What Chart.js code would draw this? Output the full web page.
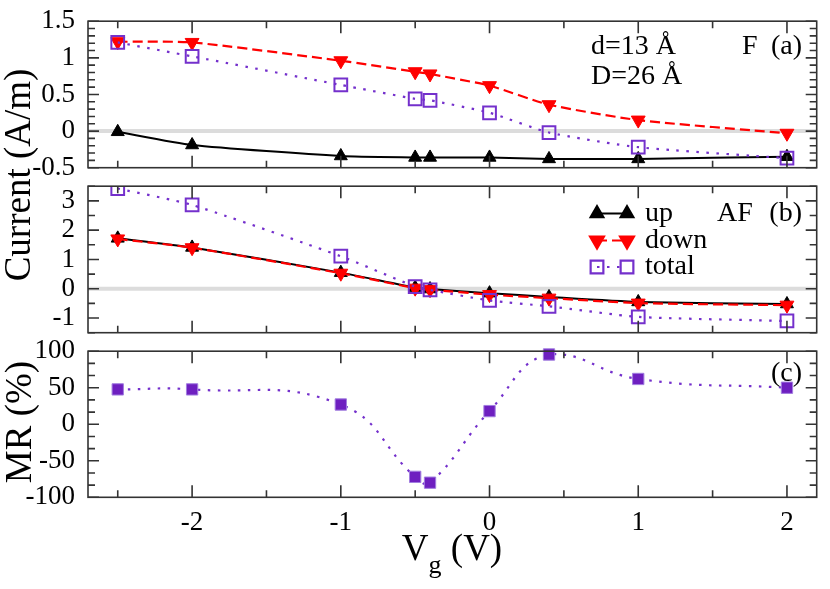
<!DOCTYPE html>
<html lang="en">
<head>
  <meta charset="utf-8">
  <title>Current and MR vs Vg</title>
  <script src="https://cdn.jsdelivr.net/npm/chart.js"></script>
  <style>
    html, body { margin: 0; padding: 0; background: #fff; }
    #page { position: relative; width: 830px; height: 589px; overflow: hidden;
            font-family: 'Liberation Serif', 'DejaVu Serif', serif; color: #000; }
    canvas { position: absolute; left: 0; }
    .ytitle { position: absolute; font-size: 37px; white-space: nowrap; line-height: 1;
              transform: translate(-50%, -50%) rotate(-90deg); }
    #xtitle { position: absolute; left: 452px; top: 529px; font-size: 37px; line-height: 1;
              white-space: nowrap; transform: translateX(-50%); }
    #xtitle sub { font-size: 26px; vertical-align: -13px; line-height: 0; }
  </style>
</head>
<body>
<div id="page">
  <canvas id="chartF" width="830" height="190" style="top:0"></canvas>
  <canvas id="chartAF" width="830" height="190" style="top:165px"></canvas>
  <canvas id="chartMR" width="830" height="259" style="top:330px"></canvas>
  <div class="ytitle" style="left:17px; top:175px">Current (A/m)</div>
  <div class="ytitle" style="left:18px; top:422px">MR (%)</div>
  <div id="xtitle">V<sub>g</sub> (V)</div>
</div>

<script>
// gate voltages (V)
var vg = [-2.5, -2, -1, -0.5, -0.4, 0, 0.4, 1, 2];

// panel (a): F configuration, current (A/m)
var upF    = [-0.01, -0.19, -0.34, -0.36, -0.36, -0.36, -0.38, -0.38, -0.35];
var downF  = [1.22, 1.21, 0.96, 0.81, 0.78, 0.62, 0.36, 0.15, -0.03];
var totalF = [1.21, 1.02, 0.63, 0.44, 0.42, 0.25, -0.02, -0.22, -0.37];

// panel (b): AF configuration, current (A/m)
var upAF    = [1.72, 1.41, 0.55, 0.04, -0.01, -0.15, -0.28, -0.45, -0.52];
var downAF  = [1.70, 1.40, 0.53, 0.02, -0.03, -0.20, -0.32, -0.49, -0.56];
var totalAF = [3.42, 2.86, 1.11, 0.07, -0.04, -0.40, -0.60, -0.96, -1.10];

// panel (c): magnetoresistance (%)
var mr = [47.7, 47.7, 27, -72, -80, 18, 95.5, 62, 50];

// ticks
var xTicks = [-2, -1, 0, 1, 2];
var xMinor = [-2.5, -1.5, -0.5, 0.5, 1.5];
var yTicksF = [-0.5, 0, 0.5, 1, 1.5];
var yTicksAF = [-1, 0, 1, 2, 3];
var yTicksMR = [-100, -50, 0, 50, 100];

var FONT = "'Liberation Serif', 'DejaVu Serif', serif";
var PURPLE = '#7430cc';
Chart.defaults.font.family = FONT;
Chart.defaults.font.size = 27;
Chart.defaults.color = '#000';

function pts(ys) {
  return vg.map(function(v, i) { return { x: v, y: ys[i] }; });
}

function upSet(ys) {
  return { label: 'up', data: pts(ys), order: 2, borderColor: '#000', borderWidth: 2,
    pointStyle: 'triangle', pointRadius: 7.5, pointBackgroundColor: '#000',
    pointBorderColor: '#000', pointBorderWidth: 1, tension: 0.2 };
}
function downSet(ys) {
  return { label: 'down', data: pts(ys), order: 1, borderColor: '#ff0000', borderWidth: 2.2,
    borderDash: [10, 5], pointStyle: 'triangle', pointRotation: 180, pointRadius: 8,
    pointBackgroundColor: '#ff0000', pointBorderColor: '#ff0000', pointBorderWidth: 1, tension: 0.2 };
}
function totalSet(ys) {
  return { label: 'total', data: pts(ys), order: 0, borderColor: PURPLE, borderWidth: 2.2,
    borderDash: [2.5, 7.5], pointStyle: 'rect', pointRadius: 9,
    pointBackgroundColor: 'rgba(0,0,0,0)', pointBorderColor: PURPLE, pointBorderWidth: 2, tension: 0.2 };
}

// frame with inward ticks, zero line, annotations and legend
var framePlugin = {
  id: 'frame',
  beforeDatasetsDraw: function(chart, args, opts) {
    if (!opts.zeroLine) return;
    var ctx = chart.ctx, a = chart.chartArea;
    var py = chart.scales.y.getPixelForValue(0);
    ctx.save();
    ctx.strokeStyle = '#dcdcdc';
    ctx.lineWidth = 4;
    ctx.beginPath();
    ctx.moveTo(a.left, py);
    ctx.lineTo(a.right, py);
    ctx.stroke();
    ctx.restore();
  },
  afterDraw: function(chart, args, opts) {
    var ctx = chart.ctx, a = chart.chartArea;
    var x = chart.scales.x, y = chart.scales.y;
    ctx.save();
    ctx.strokeStyle = '#333';
    ctx.lineWidth = 1.6;
    ctx.beginPath();
    function vt(v, len) {
      var px = x.getPixelForValue(v);
      ctx.moveTo(px, a.top); ctx.lineTo(px, a.top + len);
      ctx.moveTo(px, a.bottom); ctx.lineTo(px, a.bottom - len);
    }
    function ht(v, len) {
      var py = y.getPixelForValue(v);
      ctx.moveTo(a.left, py); ctx.lineTo(a.left + len, py);
      ctx.moveTo(a.right, py); ctx.lineTo(a.right - len, py);
    }
    xTicks.forEach(function(v) { vt(v, 12); });
    xMinor.forEach(function(v) { vt(v, 7); });
    opts.yMajor.forEach(function(v) { ht(v, 11); });
    var n = Math.round((y.max - y.min) / opts.yMinorStep);
    for (var i = 0; i <= n; i++) ht(y.min + i * opts.yMinorStep, 7);
    ctx.stroke();
    ctx.strokeRect(a.left, a.top, a.right - a.left, a.bottom - a.top);
    ctx.restore();

    ctx.save();
    ctx.fillStyle = '#000';
    ctx.font = '28px ' + FONT;
    ctx.textBaseline = 'middle';
    (opts.texts || []).forEach(function(t) {
      ctx.textAlign = t.align || 'left';
      ctx.fillText(t.text, t.x, t.y);
    });

    if (opts.legend) {
      var lg = opts.legend;
      chart.data.datasets.forEach(function(ds, i) {
        var ry = lg.rows[i];
        ctx.save();
        ctx.strokeStyle = ds.borderColor;
        ctx.lineWidth = ds.borderWidth;
        ctx.setLineDash(ds.borderDash || []);
        ctx.beginPath();
        ctx.moveTo(lg.x1, ry);
        ctx.lineTo(lg.x2, ry);
        ctx.stroke();
        ctx.setLineDash([]);
        [lg.x1, lg.x2].forEach(function(px) {
          ctx.fillStyle = ds.pointBackgroundColor;
          ctx.strokeStyle = ds.pointBorderColor;
          Chart.helpers.drawPoint(ctx, {
            pointStyle: ds.pointStyle, radius: ds.pointRadius,
            rotation: ds.pointRotation || 0, borderWidth: ds.pointBorderWidth
          }, px, ry);
        });
        ctx.restore();
        ctx.textAlign = 'left';
        ctx.fillText(ds.label, lg.textX, ry);
      });
    }
    ctx.restore();
  }
};

function fmt(v) { return String(Math.round(v * 100) / 100); }

function makePanel(id, datasets, yMin, yMax, yTicks, yMinorStep, pad, showX, frameOpts) {
  frameOpts.yMajor = yTicks;
  frameOpts.yMinorStep = yMinorStep;
  return new Chart(document.getElementById(id), {
    type: 'line',
    data: { datasets: datasets },
    plugins: [framePlugin],
    options: {
      responsive: false,
      animation: false,
      layout: { padding: pad },
      plugins: { legend: { display: false }, tooltip: { enabled: false }, frame: frameOpts },
      scales: {
        x: {
          type: 'linear', min: -2.7, max: 2.2, display: showX,
          grid: { display: false }, border: { display: false },
          afterBuildTicks: function(s) { s.ticks = xTicks.map(function(v) { return { value: v }; }); },
          afterFit: function(s) { if (showX) s.height = 40; },
          ticks: { padding: 1, maxRotation: 0, autoSkip: false, callback: fmt }
        },
        y: {
          min: yMin, max: yMax,
          grid: { display: false }, border: { display: false },
          afterBuildTicks: function(s) { s.ticks = yTicks.map(function(v) { return { value: v }; }); },
          afterFit: function(s) { s.width = 88; },
          ticks: { padding: 5, autoSkip: false, callback: fmt }
        }
      }
    }
  });
}

makePanel('chartF', [upSet(upF), downSet(downF), totalSet(totalF)],
  -0.5, 1.5, yTicksF, 0.1,
  { left: 0, right: 13.3, top: 18.3, bottom: 22.3 }, false,
  { zeroLine: true, texts: [
    { text: 'd=13 Å', x: 591, y: 46.7 },
    { text: 'D=26 Å', x: 591, y: 77 },
    { text: 'F', x: 742, y: 46.7 },
    { text: '(a)', x: 802, y: 46.7, align: 'right' }
  ] });

makePanel('chartAF', [upSet(upAF), downSet(downAF), totalSet(totalAF)],
  -1.5, 3.5, yTicksAF, 0.5,
  { left: 0, right: 13.3, top: 17.7, bottom: 22.3 }, false,
  { zeroLine: true,
    legend: { x1: 597, x2: 627, textX: 645, rows: [48.5, 75.5, 102] },
    texts: [
      { text: 'AF', x: 717, y: 48.3 },
      { text: '(b)', x: 802, y: 48.3, align: 'right' }
    ] });

makePanel('chartMR', [{
    label: 'MR', data: pts(mr), borderColor: PURPLE, borderWidth: 2.2,
    borderDash: [2.5, 7.5], pointStyle: 'rect', pointRadius: 8,
    pointBackgroundColor: '#6e1fc0', pointBorderColor: '#a27ee0', pointBorderWidth: 1,
    tension: 0.45, clip: { left: 10, right: 10, top: 10, bottom: 0 }
  }],
  -100, 100, yTicksMR, 50 / 3,
  { left: 0, right: 13.3, top: 18.3, bottom: 51.7 }, true,
  { zeroLine: false, texts: [
    { text: '(c)', x: 802, y: 43.3, align: 'right' }
  ] });
</script>
</body>
</html>
